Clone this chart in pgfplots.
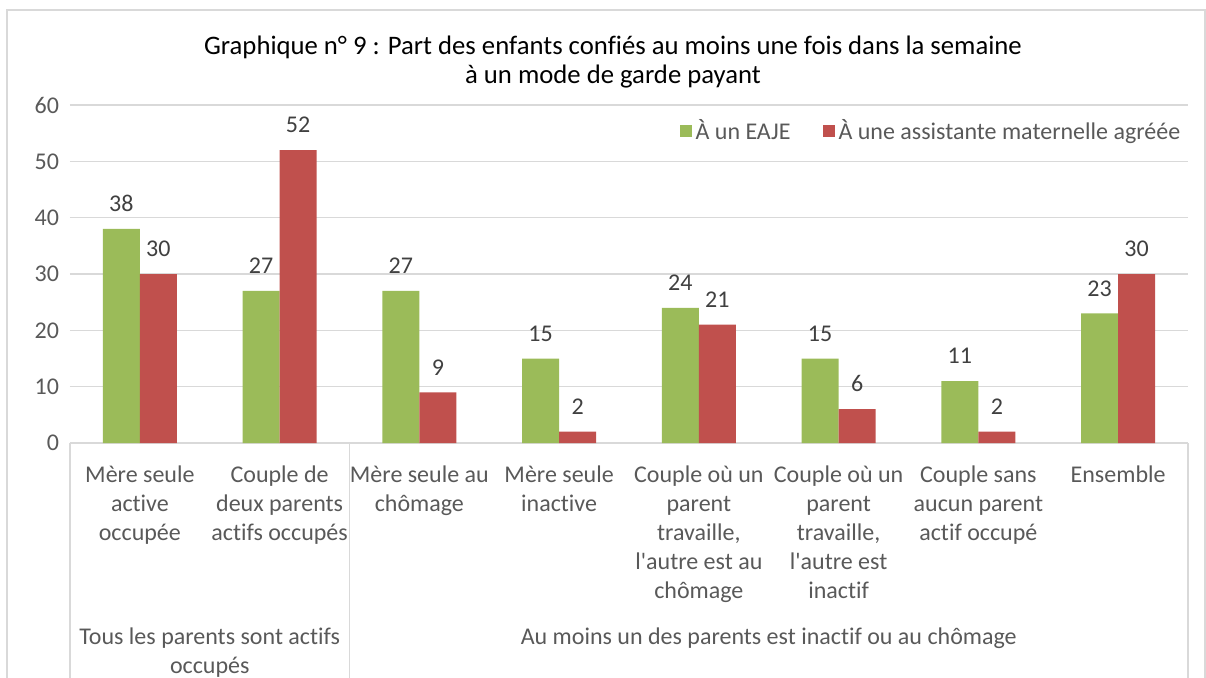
\documentclass[border=0pt]{standalone}
\usepackage{pgfplots}
\pgfplotsset{compat=1.18}
\usepackage{fontspec}
\setmainfont{Carlito}[Ligatures={NoCommon}]
\definecolor{cgreen}{HTML}{9BBB59}
\definecolor{cred}{HTML}{C0504D}
\definecolor{cgrid}{HTML}{D9D9D9}
\definecolor{ctick}{HTML}{595959}
\definecolor{clab}{HTML}{404040}
\begin{document}
\begin{tikzpicture}
\useasboundingbox (-35pt,-117pt) rectangle (568pt,221.5pt);
\begin{axis}[
  at={(0pt,0pt)}, anchor=south west,
  scale only axis, width=559pt, height=169pt,
  xmin=-0.5, xmax=7.5, ymin=0, ymax=60,
  ytick={0,10,...,60},
  xtick={0,...,7},
  xticklabels={{Mère seule\\active\\occupée},{Couple de\\deux parents\\actifs occupés},{Mère seule au\\chômage},{Mère seule\\inactive},{Couple où un\\parent\\travaille,\\l\textquotesingle autre est au\\chômage},{Couple où un\\parent\\travaille,\\l\textquotesingle autre est\\inactif},{Couple sans\\aucun parent\\actif occupé},{Ensemble}},
  x tick label style={align=center, anchor=north, inner sep=0pt, yshift=-11pt, font=\fontsize{12}{14.5}\selectfont, text=ctick},
  y tick label style={font=\fontsize{12}{14.5}\selectfont, text=ctick, xshift=-2pt},
  /pgf/number format/assume math mode=true,
  major tick length=0pt,
  axis line style={draw=none},
  ymajorgrids, grid style={cgrid, line width=0.8pt},
  ybar=0pt, bar width=18.5pt,
  clip=false,
  nodes near coords,
  every node near coord/.append style={font=\fontsize{12}{14.5}\selectfont, text=clab, yshift=5pt},
  legend columns=2,
  legend style={draw=none, fill=none, at={(0.997,0.923)}, anchor=east, font=\fontsize{12}{14.5}\selectfont, text=ctick, /tikz/every even column/.append style={column sep=14pt}, inner sep=0pt},
  legend image code/.code={\fill[#1] (0pt,-3pt) rectangle (6pt,3pt);},
]
\addplot[fill=cgreen, draw=none] coordinates {(0,38) (1,27) (2,27) (3,15) (4,24) (5,15) (6,11) (7,23)};
\addplot[fill=cred, draw=none] coordinates {(0,30) (1,52) (2,9) (3,2) (4,21) (5,6) (6,2) (7,30)};
\legend{À un EAJE, À une assistante maternelle agréée}
\end{axis}
% frame
\draw[cgrid, line width=0.75pt] (-31.5pt,-130pt) -- (-31.5pt,216.5pt) -- (567.5pt,216.5pt) -- (567.5pt,-130pt);
% category separators
\draw[cgrid, line width=0.75pt] (0pt,0pt) -- (0pt,-120pt);
\draw[cgrid, line width=0.75pt] (139.75pt,0pt) -- (139.75pt,-120pt);
\draw[cgrid, line width=0.75pt] (559pt,0pt) -- (559pt,-120pt);
% group labels
\node[anchor=north, inner sep=0pt, align=center, font=\fontsize{12}{14.5}\selectfont, text=ctick] at (69.875pt,-92pt) {Tous les parents sont actifs\\occupés};
\node[anchor=north, inner sep=0pt, align=center, font=\fontsize{12}{14.5}\selectfont, text=ctick] at (349.375pt,-92pt) {Au moins un des parents est inactif ou au chômage};
% title
\node[align=center, font=\fontsize{13.35}{14.5}\selectfont, text=black] at (271.5pt,190.25pt) {Graphique n° 9 : Part des enfants confiés au moins une fois dans la semaine\\à un mode de garde payant};
\end{tikzpicture}
\end{document}
